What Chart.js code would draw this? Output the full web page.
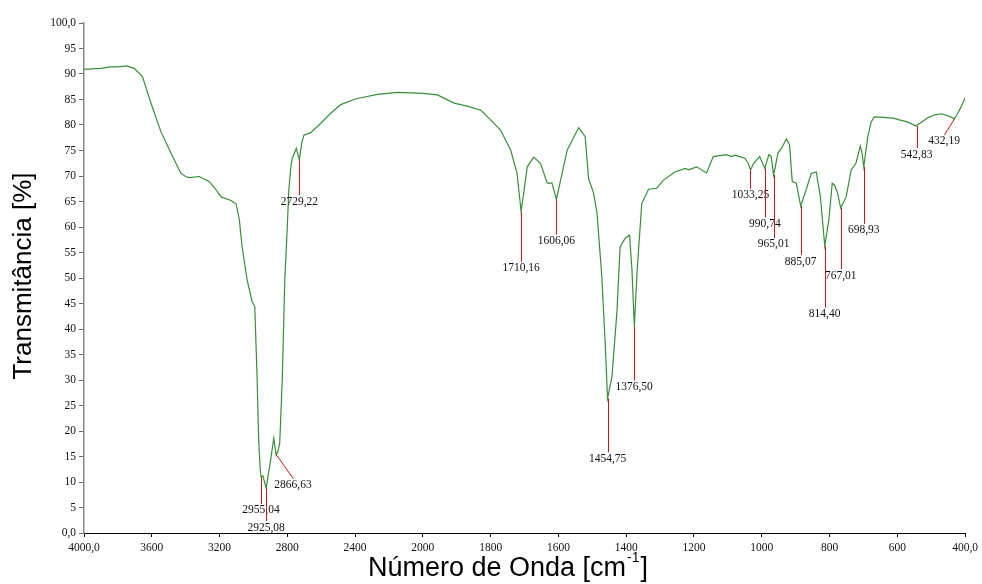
<!DOCTYPE html>
<html>
<head>
<meta charset="utf-8">
<script src="https://cdn.jsdelivr.net/npm/chart.js@4.4.1/dist/chart.umd.min.js"></script>
<style>
  html, body { margin: 0; padding: 0; background: #ffffff; }
  #wrap { width: 982px; height: 584px; }
</style>
</head>
<body>
<div id="wrap"><canvas id="c" width="982" height="584"></canvas></div>
<script>
// ---------- DATA ----------
const wavenumbers = [
  4000, 3950, 3900, 3842, 3800, 3747, 3704, 3655, 3605, 3546, 3487, 3428, 3400, 3379, 3320, 3260, 3225, 3191, 3132, 3102,
  3083, 3067, 3037, 3008, 2992, 2978, 2969, 2960, 2955, 2944, 2925, 2900, 2880, 2866, 2855, 2845, 2830, 2815, 2801, 2791,
  2780, 2771, 2747, 2729, 2715, 2702, 2663, 2604, 2544, 2485, 2406, 2386, 2268, 2150, 2071, 2000, 1957, 1908, 1869, 1829,
  1800, 1771, 1741, 1722, 1710, 1692, 1673, 1653, 1633, 1619, 1606, 1574, 1540, 1521, 1511, 1496, 1486, 1472, 1462, 1455,
  1442, 1427, 1418, 1403, 1390, 1383, 1376, 1367, 1354, 1334, 1310, 1290, 1256, 1226, 1216, 1192, 1163, 1143, 1104, 1089,
  1079, 1050, 1040, 1033, 1024, 1006, 991, 979, 972, 965, 952, 942, 927, 918, 910, 898, 885, 869, 854, 839,
  827, 814, 802, 792, 785, 776, 767, 751, 736, 722, 709, 704, 699, 687, 677, 668, 640, 609, 594, 570,
  545, 530, 510, 490, 470, 450, 440, 432, 424, 412, 400
];
const transmittance = [
  90.9, 91.0, 91.1, 91.4, 91.4, 91.6, 91.1, 89.5, 84.3, 78.7, 74.5, 70.5, 69.9, 69.7, 69.9, 68.9, 67.5, 65.9, 65.2, 64.5,
  61.4, 56.1, 49.6, 45.4, 44.4, 30.0, 18.2, 12.5, 11.0, 11.2, 8.8, 14.0, 18.6, 15.3, 16.0, 17.6, 30.0, 49.6, 59.4, 67.3,
  71.5, 73.5, 75.4, 73.1, 76.5, 78.0, 78.5, 80.3, 82.3, 84.0, 85.0, 85.2, 86.0, 86.4, 86.3, 86.2, 85.9, 84.3, 83.7, 82.9,
  81.0, 79.0, 75.1, 70.5, 63.0, 71.8, 73.7, 72.5, 68.6, 68.6, 65.4, 75.1, 79.5, 77.7, 69.5, 66.6, 62.7, 50.3, 37.2, 26.4,
  30.6, 43.7, 56.1, 57.8, 58.4, 51.6, 40.5, 52.2, 64.6, 67.4, 67.6, 69.2, 70.8, 71.5, 71.2, 71.8, 70.6, 73.8, 74.2, 73.8,
  74.1, 73.5, 72.5, 71.2, 72.5, 73.8, 71.5, 74.2, 73.8, 70.2, 74.5, 75.4, 77.3, 76.1, 68.9, 68.6, 64.1, 67.3, 70.5, 70.8,
  65.9, 56.3, 61.4, 68.6, 68.2, 66.6, 63.7, 65.9, 71.2, 72.5, 75.9, 74.5, 71.8, 77.7, 80.6, 81.6, 81.5, 81.3, 81.0, 80.6,
  79.8, 80.5, 81.4, 82.0, 82.2, 81.8, 81.5, 81.2, 82.0, 83.5, 85.3
];

const peakWavenumbers = [2955.04, 2925.08, 2866.63, 2729.22, 1710.16, 1606.06, 1454.75, 1376.50, 1033.25, 990.74, 965.01, 885.07, 814.40, 767.01, 698.93, 542.83, 432.19];
const peakTransmittance = [11.0, 8.8, 15.3, 73.1, 63.0, 65.4, 26.4, 40.5, 71.2, 71.5, 70.2, 64.1, 56.3, 63.7, 71.8, 79.8, 81.2];

const xTickValues = [4000, 3600, 3200, 2800, 2400, 2000, 1800, 1600, 1400, 1200, 1000, 800, 600, 400];
const xTickLabels = ['4000,0', '3600', '3200', '2800', '2400', '2000', '1800', '1600', '1400', '1200', '1000', '800', '600', '400,0'];
const yTickValues = [0, 5, 10, 15, 20, 25, 30, 35, 40, 45, 50, 55, 60, 65, 70, 75, 80, 85, 90, 95, 100];
const yTickLabels = ['0,0', '5', '10', '15', '20', '25', '30', '35', '40', '45', '50', '55', '60', '65', '70', '75', '80', '85', '90', '95', '100,0'];

const xTitleMain = 'Número de Onda [cm';
const xTitleSup = '-1';
const xTitleEnd = ']';
const yTitle = 'Transmitância [%]';

// ---------- LAYOUT (label leader lines, px) ----------
const peakLeaderDx = [0, 0, 17, 0, 0, 0, 0, 0, 0, 0, 0, 0, 0, 0, 0, 0, -10];
const peakLeaderDy = [27, 33, 24, 35, 50, 35, 54, 54, 19, 49, 63, 49, 62, 61, 57, 22, 16];

// ---------- Spectrometer axis: 4000-2000 compressed x2 ----------
const fold = v => v > 2000 ? 2000 + (v - 2000) / 2 : v;
const unfold = f => f > 2000 ? 2000 + (f - 2000) * 2 : f;

class IRScale extends Chart.LinearScale {
  buildTicks() {
    return xTickValues.map(v => ({ value: v }));
  }
  getPixelForValue(value) {
    const a = fold(this.min), b = fold(this.max);
    return this.getPixelForDecimal((fold(value) - a) / (b - a));
  }
  getValueForPixel(pixel) {
    const a = fold(this.min), b = fold(this.max);
    return unfold(a + this.getDecimalForPixel(pixel) * (b - a));
  }
}
IRScale.id = 'irscale';
IRScale.defaults = {};
Chart.register(IRScale);

Chart.defaults.font.family = '"Liberation Serif", "DejaVu Serif", serif';
Chart.defaults.font.size = 11.5;
Chart.defaults.color = '#111111';

const peakPlugin = {
  id: 'peaks',
  afterDatasetsDraw(chart) {
    const ctx = chart.ctx;
    const xs = chart.scales.x, ys = chart.scales.y;
    ctx.save();
    ctx.strokeStyle = '#d01818';
    ctx.lineWidth = 1;
    ctx.font = '11.5px "Liberation Serif", "DejaVu Serif", serif';
    ctx.fillStyle = '#111111';
    ctx.textAlign = 'center';
    ctx.textBaseline = 'middle';
    peakWavenumbers.forEach((wn, i) => {
      const px = xs.getPixelForValue(wn);
      const py = ys.getPixelForValue(peakTransmittance[i]);
      const ex = px + peakLeaderDx[i];
      const ey = py + peakLeaderDy[i];
      ctx.beginPath();
      ctx.moveTo(Math.round(px) + 0.5, py);
      ctx.lineTo(Math.round(ex) + 0.5, ey);
      ctx.stroke();
      ctx.fillText(wn.toFixed(2).replace('.', ','), ex, ey + 6.5);
    });
    ctx.restore();
  }
};

const titlePlugin = {
  id: 'axisTitles',
  afterDraw(chart) {
    const ctx = chart.ctx;
    ctx.save();
    ctx.fillStyle = '#000000';
    // y title
    ctx.font = '26px "Liberation Sans", Arial, sans-serif';
    ctx.textAlign = 'center';
    ctx.textBaseline = 'middle';
    ctx.translate(24, 276);
    ctx.rotate(-Math.PI / 2);
    ctx.fillText(yTitle, 0, 0);
    ctx.restore();

    // x title with superscript
    ctx.save();
    ctx.fillStyle = '#000000';
    ctx.textBaseline = 'alphabetic';
    ctx.textAlign = 'left';
    const mainFont = '27px "Liberation Sans", Arial, sans-serif';
    const supFont = '14px "Liberation Sans", Arial, sans-serif';
    ctx.font = mainFont;
    const w1 = ctx.measureText(xTitleMain).width;
    const w3 = ctx.measureText(xTitleEnd).width;
    ctx.font = supFont;
    const w2 = ctx.measureText(xTitleSup).width + 2;
    const total = w1 + w2 + w3;
    const cx = 508;
    const x0 = cx - total / 2;
    const base = 576;
    ctx.font = mainFont;
    ctx.fillText(xTitleMain, x0, base);
    ctx.font = supFont;
    ctx.fillText(xTitleSup, x0 + w1 + 1, base - 14);
    ctx.font = mainFont;
    ctx.fillText(xTitleEnd, x0 + w1 + w2, base);
    ctx.restore();
  }
};

const bgPlugin = {
  id: 'bg',
  beforeDraw(chart) {
    const ctx = chart.ctx;
    ctx.save();
    ctx.fillStyle = '#ffffff';
    ctx.fillRect(0, 0, chart.width, chart.height);
    ctx.restore();
  }
};

new Chart(document.getElementById('c'), {
  type: 'line',
  data: {
    datasets: [{
      data: wavenumbers.map((w, i) => ({ x: w, y: transmittance[i] })),
      borderColor: 'rgb(56, 142, 56)',
      borderWidth: 1.2,
      pointRadius: 0,
      tension: 0,
      fill: false
    }]
  },
  options: {
    responsive: false,
    animation: false,
    events: [],
    layout: { padding: { top: 23, right: 16, left: 0, bottom: 0 } },
    plugins: { legend: { display: false }, tooltip: { enabled: false }, title: { display: false } },
    scales: {
      x: {
        type: 'irscale',
        min: 400,
        max: 4000,
        reverse: true,
        afterFit(scale) { scale.height = 51; },
        border: { display: true, color: '#000000', width: 1 },
        grid: { display: true, drawOnChartArea: false, drawTicks: true, tickLength: 4, color: '#000000' },
        ticks: {
          autoSkip: false,
          maxRotation: 0,
          minRotation: 0,
          padding: 4,
          color: '#111111',
          callback(value, index) { return xTickLabels[index]; }
        },
        title: { display: false }
      },
      y: {
        type: 'linear',
        min: 0,
        max: 100,
        afterFit(scale) { scale.width = 84; },
        afterBuildTicks(scale) { scale.ticks = yTickValues.map(v => ({ value: v })); },
        border: { display: true, color: '#8a8a8a', width: 1.5 },
        grid: { display: true, drawOnChartArea: false, drawTicks: true, tickLength: 5, color: '#6a6a6a' },
        ticks: {
          autoSkip: false,
          padding: 3,
          color: '#111111',
          callback(value, index) { return yTickLabels[index]; }
        },
        title: { display: false }
      }
    }
  },
  plugins: [bgPlugin, peakPlugin, titlePlugin]
});
</script>
</body>
</html>
